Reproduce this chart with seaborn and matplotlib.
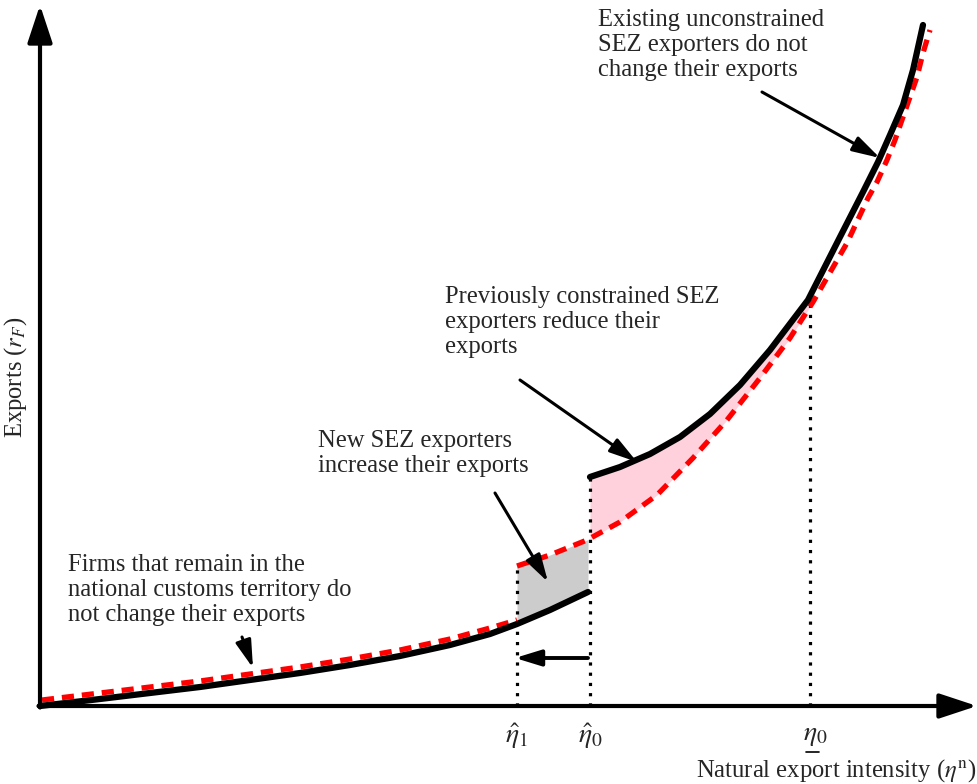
import numpy as np
import matplotlib
matplotlib.use("Agg")
import matplotlib.pyplot as plt
import seaborn as sns

sns.set_style("white")
plt.rcParams['font.family'] = ['Liberation Serif', 'DejaVu Serif']
plt.rcParams['mathtext.fontset'] = 'stix'

# exports before the change (black), two pieces
old_lo_x = [0, 60, 110, 160, 210, 260, 310, 360, 410, 450, 477, 510, 548]
old_lo_y = [0, 7, 13, 19, 26, 33, 41, 50, 61, 72, 82, 96, 114]
old_hi_x = [550, 580, 610, 640, 670, 700, 730, 768, 800, 823, 838, 850, 863, 873, 883]
old_hi_y = [229, 239, 252, 269, 292, 321, 356, 406, 469, 514, 544, 571, 601, 636, 681]

# exports after the change (red dashed), two pieces
new_lo_x = [2, 60, 110, 160, 210, 260, 310, 360, 410, 450, 477]
new_lo_y = [6, 13, 19, 25, 32, 39, 47, 56, 67, 78, 86]
new_hi_x = [477, 510, 547, 580, 617, 653, 687, 720, 750, 773, 807, 828, 837, 847, 855, 863, 870, 877, 883, 890]
new_hi_y = [140, 151, 166, 184, 211, 248, 286, 328, 368, 404, 463, 508, 524, 546, 566, 589, 609, 629, 653, 676]

# thresholds
eta_hat1 = 477
eta_hat0 = 550
eta_low0 = 770
tick_labels = [r'$\hat{\eta}_1$', r'$\hat{\eta}_0$', r'$\eta_0$']

fig = plt.figure(figsize=(9.77, 7.84), dpi=100)
ax = fig.add_axes([0, 0, 1, 1])
ax.set_xlim(-40, 937)
ax.set_ylim(-78, 706)
ax.axis('off')

# shaded areas
xg = np.linspace(eta_hat1, eta_hat0 - 2, 40)
ax.fill_between(xg, np.interp(xg, old_lo_x, old_lo_y), np.interp(xg, new_hi_x, new_hi_y),
                color='#cccccc', lw=0)
xp = np.linspace(eta_hat0, eta_low0, 80)
ax.fill_between(xp, np.interp(xp, new_hi_x, new_hi_y), np.interp(xp, old_hi_x, old_hi_y),
                color='#ffd1dc', lw=0)

# dotted thresholds
for xv, top in [(eta_hat1, new_hi_y[0]), (eta_hat0, old_hi_y[0]), (eta_low0, 410)]:
    ax.plot([xv, xv], [0, top], color='k', lw=2.3, linestyle=(0, (1, 2.2)))

red_kw = dict(color='red', lw=3.8, linestyle=(0, (2.3, 1.5)), sort=False, estimator=None)
sns.lineplot(x=new_lo_x, y=new_lo_y, ax=ax, **red_kw)
sns.lineplot(x=new_hi_x, y=new_hi_y, ax=ax, **red_kw)
blk_kw = dict(color='black', lw=4.5, sort=False, estimator=None)
sns.lineplot(x=old_lo_x, y=old_lo_y, ax=ax, **blk_kw)
sns.lineplot(x=old_hi_x, y=old_hi_y, ax=ax, **blk_kw)

# axes with arrows
ax_arrow = dict(arrowstyle='-|>,head_length=1.15,head_width=0.38', lw=3, color='k',
                mutation_scale=20, shrinkA=0, shrinkB=0)
ax.annotate('', xy=(0, 701), xytext=(0, -1.5), arrowprops=ax_arrow)
ax.annotate('', xy=(937, 0), xytext=(-1.5, 0), arrowprops=ax_arrow)

# shift arrow
ax.annotate('', xy=(eta_hat1 - 2, 48), xytext=(eta_hat0 - 2, 48),
            arrowprops=dict(arrowstyle='-|>,head_length=1.3,head_width=0.4', lw=2.8,
                            color='k', mutation_scale=12, shrinkA=0, shrinkB=0))

# tick labels
for xv, lab in zip([eta_hat1, eta_hat0, eta_low0 + 5], tick_labels):
    ax.text(xv, -30, lab, fontsize=20, ha='center', va='center')
ax.plot([eta_low0 - 4, eta_low0 + 9], [-46, -46], color='k', lw=1.2)

ax.text(936, -65, r'Natural export intensity ($\eta^{\rm n}$)', fontsize=17.7, ha='right', va='center')
ax.text(-24, 329, r'Exports ($r_F$)', fontsize=17.7, rotation=90, ha='center', va='center')

# annotations
note_arrow = dict(arrowstyle='-|>,head_length=1.4,head_width=0.4', lw=2.2, color='k',
                  mutation_scale=12, shrinkA=0, shrinkB=0)
txt_kw = dict(fontsize=17.7, ha='left', va='top', linespacing=1.17)
ax.text(558, 697, 'Existing unconstrained\nSEZ exporters do not\nchange their exports', **txt_kw)
ax.annotate('', xy=(840, 548), xytext=(722, 614), arrowprops=note_arrow)
ax.text(405, 420, 'Previously constrained SEZ\nexporters reduce their\nexports', **txt_kw)
ax.annotate('', xy=(597, 244), xytext=(480, 326), arrowprops=note_arrow)
ax.text(278, 276, 'New SEZ exporters\nincrease their exports', **txt_kw)
ax.annotate('', xy=(508, 124), xytext=(455, 213), arrowprops=note_arrow)
ax.text(28, 152, 'Firms that remain in the\nnational customs territory do\nnot change their exports', **txt_kw)
ax.annotate('', xy=(213, 38), xytext=(202, 69), arrowprops=note_arrow)

fig.savefig('out.png', dpi=100)
